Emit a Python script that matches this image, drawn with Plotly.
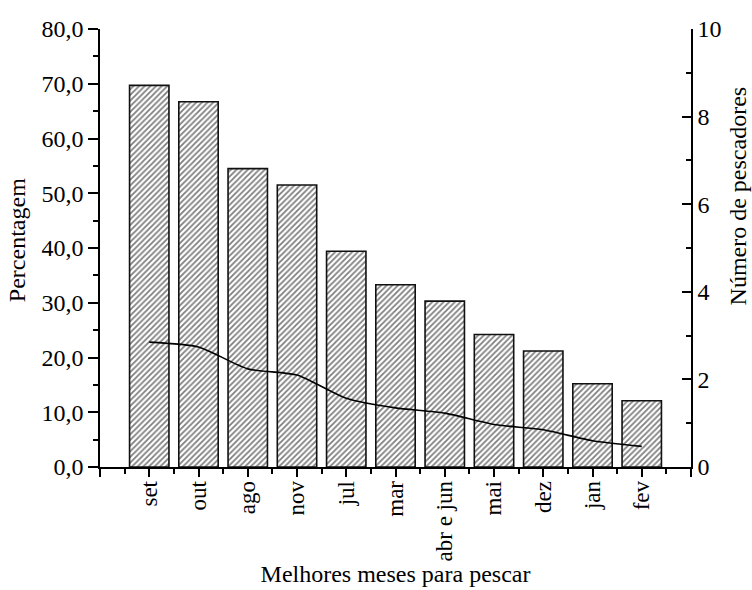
import plotly.graph_objects as go

months = ["set", "out", "ago", "nov", "jul", "mar", "abr e jun", "mai", "dez", "jan", "fev"]
percent = [69.7, 66.7, 54.5, 51.5, 39.4, 33.3, 30.3, 24.2, 21.2, 15.2, 12.1]
fishers = [2.85, 2.74, 2.24, 2.10, 1.57, 1.35, 1.23, 0.97, 0.85, 0.60, 0.47]

n = len(months)
idx = list(range(n))

FONT = "Liberation Serif"
FS = 24

fig = go.Figure()
fig.add_trace(go.Bar(
    x=idx, y=percent, yaxis="y", width=0.8,
    marker=dict(color="white",
                line=dict(color="#111111", width=1.6),
                pattern=dict(shape="/", fgcolor="black", bgcolor="white",
                             size=4, solidity=0.45)),
    showlegend=False,
))
fig.add_trace(go.Scatter(
    x=idx, y=fishers, yaxis="y2", mode="lines",
    line=dict(color="black", width=1.6, shape="spline", smoothing=0.6),
    showlegend=False,
))

fig.update_layout(
    width=752, height=590, autosize=False,
    margin=dict(l=100, r=61, t=29, b=123),
    paper_bgcolor="white", plot_bgcolor="white",
    font=dict(family=FONT, size=FS, color="black"),
    separators=",.",
    bargap=0.2,
    xaxis=dict(
        range=[-1, n],
        automargin=False,
        tickmode="array",
        tickvals=[-1] + idx + [n],
        ticktext=[""] + months + [""],
        tickangle=-90,
        ticklabelstandoff=-5,
        ticks="outside", ticklen=8, tickwidth=1.5, tickcolor="black",
        minor=dict(tickmode="array", tickvals=[i - 0.5 for i in range(n + 1)],
                   ticks="outside", ticklen=5, tickwidth=1.5, tickcolor="black"),
        showline=True, linecolor="black", linewidth=1.6,
        showgrid=False, zeroline=False,
        title=dict(text="Melhores meses para pescar", standoff=0,
                   font=dict(size=FS)),
        tickfont=dict(size=23),
    ),
    yaxis=dict(
        range=[0, 80], dtick=10, tick0=0, tickformat=".1f",
        automargin=False,
        ticks="outside", ticklen=10, tickwidth=1.5, tickcolor="black",
        minor=dict(dtick=5, tick0=0, ticks="outside", ticklen=5,
                   tickwidth=1.5, tickcolor="black"),
        showline=True, linecolor="black", linewidth=1.6,
        showgrid=False, zeroline=False,
        tickfont=dict(size=FS),
    ),
    yaxis2=dict(
        overlaying="y", side="right",
        range=[0, 10], dtick=2, tick0=0,
        automargin=False,
        ticks="inside", ticklen=9, tickwidth=1.5, tickcolor="black",
        minor=dict(dtick=1, tick0=0, ticks="inside", ticklen=5,
                   tickwidth=1.5, tickcolor="black"),
        showline=True, linecolor="black", linewidth=1.6,
        showgrid=False, zeroline=False,
        tickfont=dict(size=FS),
    ),
    annotations=[
        dict(text="Percentagem", textangle=-90, showarrow=False,
             xref="paper", yref="paper", x=-0.1404, y=0.518,
             xanchor="center", yanchor="middle", font=dict(size=FS)),
        dict(text="Número de pescadores", textangle=-90, showarrow=False,
             xref="paper", yref="paper", x=1.0795, y=0.62,
             xanchor="center", yanchor="middle", font=dict(size=FS)),
    ],
)

fig.write_html("out.html")
